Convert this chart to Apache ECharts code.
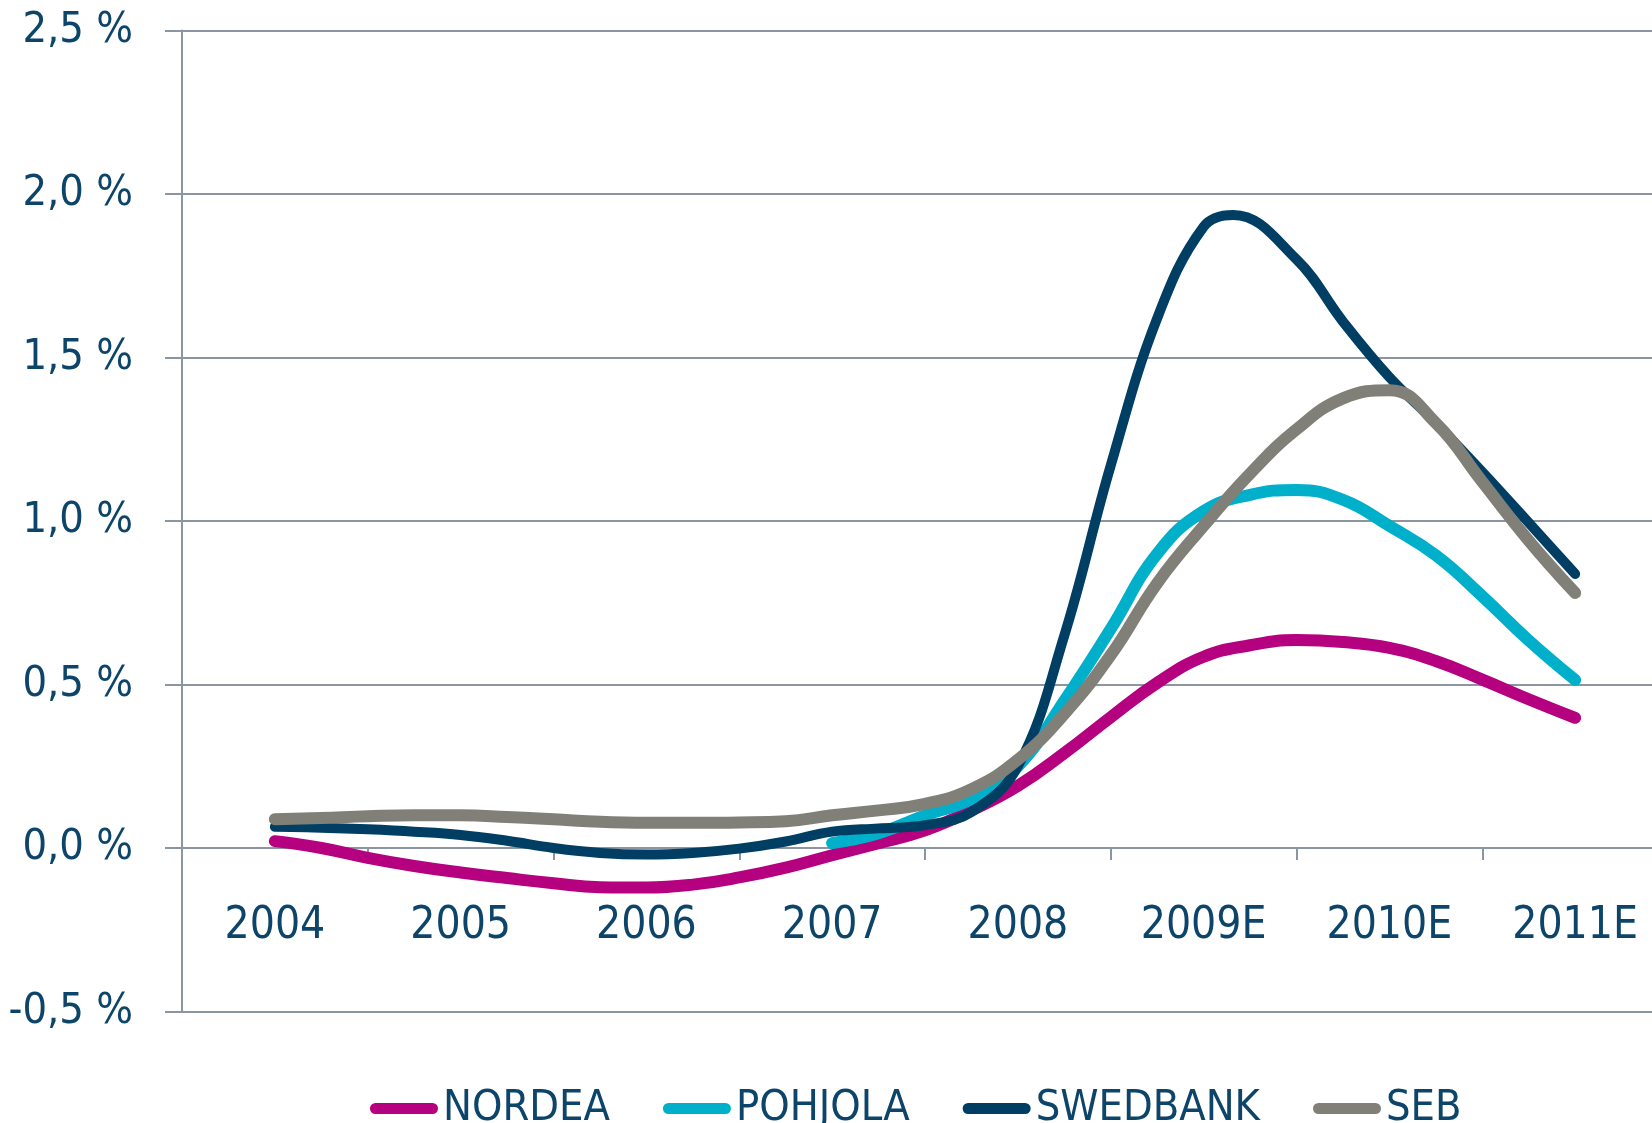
<!DOCTYPE html>
<html>
<head>
<meta charset="utf-8">
<script src="https://cdn.jsdelivr.net/npm/echarts@6/dist/echarts.min.js"></script>
<style>
html,body{margin:0;padding:0;background:#fff;}
#chart{width:1652px;height:1123px;}
</style>
</head>
<body>
<div id="chart"></div>
<script>
// Category labels (years)
const years = ['2004','2005','2006','2007','2008','2009E','2010E','2011E'];
// Quarterly sample positions, in category units (0 = 2004 ... 7 = 2011E)
const quarterPos = [0,0.25,0.5,0.75,1,1.25,1.5,1.75,2,2.25,2.5,2.75,3,3.25,3.5,3.75,4,4.25,4.5,4.75,5,5.25,5.5,5.75,6,6.25,6.5,6.75,7];
// Swedbank sample positions (peak read at 5.16 instead of 5.25)
const swedbankPos = [0,0.25,0.5,0.75,1,1.25,1.5,1.75,2,2.25,2.5,2.75,3,3.25,3.5,3.75,4,4.25,4.5,4.75,5,5.16,5.5,5.75,6,6.25,6.5,6.75,7];
// Series values (%)
const nordea   = [0.021,0.0,-0.03,-0.055,-0.075,-0.092,-0.108,-0.12,-0.121,-0.112,-0.09,-0.06,-0.022,0.015,0.054,0.115,0.19,0.29,0.40,0.505,0.585,0.62,0.636,0.63,0.612,0.572,0.515,0.455,0.398];
const pohjola  = [null,null,null,null,null,null,null,null,null,null,null,null,0.015,0.045,0.10,0.15,0.25,0.45,0.67,0.90,1.03,1.08,1.095,1.065,0.985,0.895,0.77,0.635,0.514];
const swedbank = [0.065,0.062,0.057,0.05,0.04,0.022,0.0,-0.015,-0.02,-0.015,-0.002,0.02,0.05,0.06,0.07,0.11,0.25,0.65,1.17,1.62,1.90,1.936,1.80,1.61,1.44,1.30,1.15,0.995,0.838];
const seb      = [0.088,0.092,0.097,0.10,0.10,0.095,0.088,0.08,0.077,0.077,0.078,0.082,0.10,0.115,0.135,0.18,0.27,0.41,0.59,0.81,0.985,1.145,1.28,1.375,1.40,1.30,1.12,0.94,0.78];
// Y axis ticks
const yMin = -0.5, yMax = 2.5, yStep = 0.5;

const FONT = "'DejaVu Sans Condensed', 'DejaVu Sans', sans-serif";
const TEXT = '#0d4469';
const GRID = '#8c96a3';

function pairs(pos, vals){
  const out = [];
  vals.forEach((v,i)=>{ if(v!==null) out.push([pos[i], v]); });
  return out;
}

const chart = echarts.init(document.getElementById('chart'), null, {renderer:'canvas'});
const iconPath = 'path://M5.5,0H62.5A5.5,5.5,0,0,1,62.5,11H5.5A5.5,5.5,0,0,1,5.5,0Z';

function mk(name, pos, vals, color, width, smooth){
  return {
    name: name, type: 'line', xAxisIndex: 1, yAxisIndex: 0,
    data: pairs(pos, vals), smooth: smooth, symbol: 'none', showSymbol: false,
    lineStyle: {color: color, width: width, cap: 'round', join: 'round'},
    itemStyle: {color: color},
    emphasis: {disabled: true}
  };
}

// plot geometry
const plotTop = 30.5, plotBottom = 1011.5;
const zeroOffset = (plotBottom - plotTop) * (0 - yMin) / (yMax - yMin);

chart.setOption({
  animation: false,
  backgroundColor: '#ffffff',
  textStyle: {fontFamily: FONT},
  grid: {left: 182, right: -16, top: plotTop, bottom: 1123 - plotBottom, containLabel: false, outerBoundsMode: 'none'},
  legend: {
    left: 365, top: 1082,
    itemWidth: 68, itemHeight: 11, itemGap: 53,
    icon: iconPath,
    textStyle: {fontFamily: FONT, fontSize: 43, color: TEXT},
    data: ['NORDEA','POHJOLA','SWEDBANK','SEB']
  },
  xAxis: [
    {
      type: 'category', data: years, boundaryGap: true, position: 'bottom',
      offset: -zeroOffset,
      axisLine: {show: true, onZero: false, lineStyle: {color: GRID, width: 2}},
      axisTick: {show: true, length: 12, interval: 0, lineStyle: {color: GRID, width: 2}},
      axisLabel: {fontFamily: FONT, fontSize: 44, color: TEXT, margin: 57, interval: 0},
      splitLine: {show: false}
    },
    {
      type: 'value', min: -0.5, max: 7.5, show: false, position: 'top'
    }
  ],
  yAxis: {
    type: 'value', min: yMin, max: yMax, interval: yStep,
    axisLine: {show: true, onZero: false, lineStyle: {color: GRID, width: 2}},
    axisTick: {show: true, length: 17, lineStyle: {color: GRID, width: 2}},
    splitLine: {show: true, lineStyle: {color: GRID, width: 2}},
    axisLabel: {
      fontFamily: FONT, fontSize: 43, color: TEXT, margin: 49,
      formatter: v => v.toFixed(1).replace('.', ',') + ' %'
    }
  },
  series: [
    mk('NORDEA', quarterPos, nordea, '#b5007f', 12, 0.45),
    mk('POHJOLA', quarterPos, pohjola, '#00b0cb', 12, 0.45),
    mk('SWEDBANK', swedbankPos, swedbank, '#003f63', 10, 0.4),
    mk('SEB', quarterPos, seb, '#807f78', 12, 0.45)
  ]
});
</script>
</body>
</html>
